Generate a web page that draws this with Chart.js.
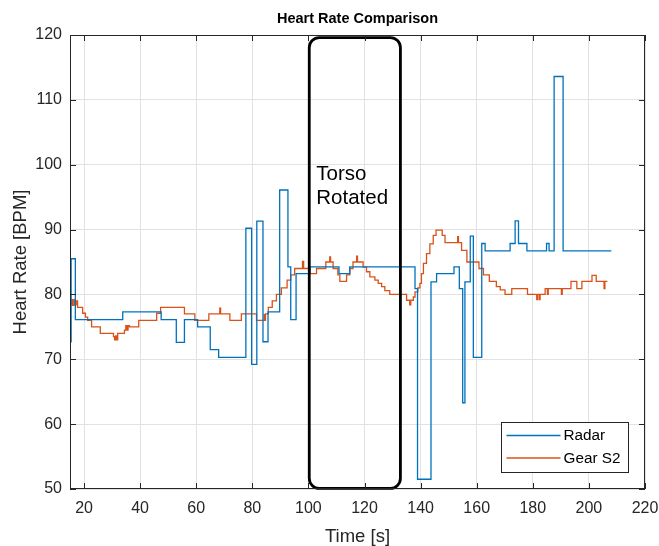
<!DOCTYPE html>
<html><head><meta charset="utf-8">
<script src="https://cdn.jsdelivr.net/npm/chart.js@4.4.0/dist/chart.umd.min.js"></script>
<style>html,body{margin:0;padding:0;background:#fff;}</style>
</head><body>
<canvas id="c" width="659" height="546"></canvas>
<script>
// ---- data ----
const chartTitle = 'Heart Rate Comparison';
const xLabel = 'Time [s]';
const yLabel = 'Heart Rate [BPM]';
const xTicks = [20, 40, 60, 80, 100, 120, 140, 160, 180, 200, 220];
const yTicks = [50, 60, 70, 80, 90, 100, 110, 120];
const xRange = [15, 220];
const yRange = [50, 120];

const radarLabel = 'Radar';
const radarTime = [15.1, 15.4, 16.9, 33.8, 47.5, 52.9, 55.8, 60.5, 65.0, 68.0,
  77.7, 79.75, 81.6, 83.8, 85.6, 89.75, 92.7, 93.7, 95.6, 100.5,
  110.9, 114.75, 138.0, 138.9, 143.7, 145.7, 151.9, 153.8, 155.0, 155.8,
  157.7, 158.8, 161.8, 163.0, 171.9, 173.7, 174.9, 177.9, 184.9, 185.8,
  187.6, 190.8, 208.0];
const radarBpm = [72.7, 85.5, 76.1, 77.3, 76.1, 72.6, 76.1, 75.0, 71.5, 70.3,
  90.2, 69.2, 91.3, 72.7, 77.3, 96.1, 84.25, 76.1, 83.2, 84.25,
  83.2, 84.25, 80.9, 51.5, 81.95, 83.2, 84.25, 80.9, 63.3, 81.95,
  89.0, 70.3, 87.85, 86.7, 87.85, 91.35, 87.85, 86.7, 87.85, 86.7,
  113.6, 86.7, 86.7];

const gearLabel = 'Gear S2';
const gearTime = [15.1, 15.5, 15.9, 16.4, 16.8, 17.2, 17.7, 19.5, 20.5, 21.3,
  22.7, 25.8, 30.5, 30.9, 31.3, 31.6, 32.0, 34.4, 34.9, 35.3,
  35.7, 36.2, 39.5, 45.9, 47.3, 55.8, 59.5, 64.5, 68.4, 68.7,
  72.0, 76.1, 81.5, 84.2, 84.4, 84.7, 85.7, 87.1, 88.6, 90.35,
  92.4, 93.7, 95.1, 97.9, 98.3, 100.5, 102.9, 106.2, 107.6, 107.9,
  108.8, 110.5, 111.2, 113.6, 114.75, 115.9, 117.2, 117.5, 119.5, 120.7,
  121.9, 123.7, 124.9, 126.1, 127.25, 129.0, 135.0, 136.1, 136.5, 137.4,
  138.0, 139.0, 139.75, 140.3, 141.0, 142.1, 143.3, 144.5, 145.5, 147.7,
  148.7, 153.2, 153.5, 154.6, 156.5, 160.8, 162.4, 164.5, 167.0, 168.4,
  170.1, 172.5, 178.1, 181.4, 181.7, 182.3, 182.6, 184.4, 185.2, 185.5,
  190.2, 190.5, 193.6, 195.7, 197.5, 201.1, 202.6, 205.4, 205.7, 206.6];
const gearBpm = [78.5, 79.2, 78.3, 79.2, 78.4, 79.0, 78.0, 77.1, 76.5, 76.0,
  75.0, 74.0, 73.5, 73.0, 73.6, 73.0, 74.0, 74.5, 75.2, 74.5,
  75.2, 75.0, 76.0, 77.1, 78.0, 77.0, 76.0, 77.0, 77.9, 77.0,
  76.0, 77.0, 76.0, 76.9, 76.0, 77.0, 78.0, 79.0, 80.0, 81.0,
  82.2, 83.0, 84.0, 85.1, 84.0, 83.2, 84.0, 85.0, 85.8, 85.0,
  84.0, 83.0, 82.0, 83.0, 84.0, 85.0, 85.9, 85.0, 84.2, 83.5,
  82.7, 82.2, 81.7, 81.2, 80.6, 80.0, 79.1, 78.4, 79.1, 79.6,
  80.4, 81.0, 81.7, 83.2, 84.8, 86.3, 87.8, 89.1, 89.9, 89.1,
  88.0, 88.9, 88.0, 86.8, 85.0, 84.0, 83.0, 82.0, 81.2, 80.7,
  80.0, 80.9, 80.0, 79.2, 80.0, 79.2, 80.0, 80.9, 80.0, 80.9,
  80.0, 80.9, 82.0, 80.9, 82.0, 82.95, 82.0, 80.9, 82.0, 82.0];

// annotation (data coordinates)
const annotationText = ['Torso', 'Rotated'];
const annotationBox = { t0: 100.3, t1: 132.8, v0: 50.1, v1: 119.6 };
const annotationTextAt = { t: 102.8, v: 97.6 };

// ---- styles ----
const FONT = '"Liberation Sans", Arial, Helvetica, sans-serif';
const AXIS = '#262626';
const GRID = '#e2e2e2';
const BLUE = '#0072BD';
const ORANGE = '#D95319';

const toXY = (ts, vs) => ts.map((t, i) => ({ x: t, y: vs[i] }));

const decor = {
  id: 'decor',
  afterDatasetsDraw(chart) {
    const { ctx, chartArea: a, scales: { x, y } } = chart;
    ctx.save();
    // annotation rounded box
    const L = x.getPixelForValue(annotationBox.t0), R = x.getPixelForValue(annotationBox.t1);
    const T = y.getPixelForValue(annotationBox.v1), B = y.getPixelForValue(annotationBox.v0);
    ctx.beginPath();
    ctx.roundRect(L, T, R - L, B - T, 10);
    ctx.lineWidth = 2.8; ctx.strokeStyle = '#000'; ctx.stroke();
    ctx.fillStyle = '#000';
    ctx.font = '20.5px ' + FONT;
    ctx.textAlign = 'left'; ctx.textBaseline = 'alphabetic';
    const tx = x.getPixelForValue(annotationTextAt.t), ty = y.getPixelForValue(annotationTextAt.v);
    annotationText.forEach((s, i) => ctx.fillText(s, tx, ty + i * 23.4));

    // axes box
    ctx.strokeStyle = AXIS; ctx.lineWidth = 1;
    ctx.strokeRect(a.left + 0.5, a.top + 0.5, a.right - a.left - 1, a.bottom - a.top - 1);
    // inward ticks
    ctx.beginPath();
    xTicks.forEach(v => {
      const p = Math.round(x.getPixelForValue(v)) + 0.5;
      ctx.moveTo(p, a.bottom); ctx.lineTo(p, a.bottom - 6);
      ctx.moveTo(p, a.top); ctx.lineTo(p, a.top + 6);
    });
    yTicks.forEach(v => {
      const p = Math.round(y.getPixelForValue(v)) + 0.5;
      ctx.moveTo(a.left, p); ctx.lineTo(a.left + 6, p);
      ctx.moveTo(a.right, p); ctx.lineTo(a.right - 6, p);
    });
    ctx.stroke();

    // title
    ctx.fillStyle = '#000';
    ctx.font = 'bold 14.5px ' + FONT;
    ctx.textAlign = 'center'; ctx.textBaseline = 'middle';
    ctx.fillText(chartTitle, (a.left + a.right) / 2, 18.5);

    // legend
    const bw = 127, bh = 50;
    const bx = a.right - 17 - bw, by = a.bottom - 17 - bh;
    ctx.fillStyle = '#fff';
    ctx.fillRect(bx, by, bw, bh);
    ctx.strokeStyle = AXIS; ctx.lineWidth = 1;
    ctx.strokeRect(Math.round(bx) + 0.5, Math.round(by) + 0.5, bw, bh);
    ctx.font = '15.3px ' + FONT;
    ctx.textAlign = 'left'; ctx.textBaseline = 'middle';
    chart.data.datasets.forEach((ds, i) => {
      const ly = by + 13.5 + i * 22.5;
      ctx.beginPath();
      ctx.moveTo(bx + 5.5, ly); ctx.lineTo(bx + 59.5, ly);
      ctx.strokeStyle = ds.borderColor; ctx.lineWidth = 1.3; ctx.stroke();
      ctx.fillStyle = '#000';
      ctx.fillText(ds.label, bx + 62.5, ly + 0.5);
    });
    ctx.restore();
  }
};

new Chart(document.getElementById('c'), {
  type: 'line',
  data: {
    datasets: [
      { label: radarLabel, data: toXY(radarTime, radarBpm), borderColor: BLUE, borderWidth: 1.3,
        pointRadius: 0, stepped: true, fill: false },
      { label: gearLabel, data: toXY(gearTime, gearBpm), borderColor: ORANGE, borderWidth: 1.3,
        pointRadius: 0, stepped: true, fill: false }
    ]
  },
  options: {
    responsive: false,
    animation: false,
    events: [],
    layout: { padding: { top: 35, right: 14, left: 0, bottom: 0 } },
    plugins: { legend: { display: false }, tooltip: { enabled: false }, title: { display: false } },
    scales: {
      x: {
        type: 'linear', min: xRange[0], max: xRange[1],
        afterBuildTicks: s => { s.ticks = xTicks.map(v => ({ value: v })); },
        afterFit: s => { s.height = 57; s.paddingLeft = 0; s.paddingRight = 0; },
        grid: { color: GRID, lineWidth: 1, drawTicks: false },
        border: { display: false },
        ticks: { color: AXIS, font: { family: FONT, size: 16 }, padding: 10, maxRotation: 0 },
        title: { display: true, text: xLabel, color: AXIS, font: { family: FONT, size: 18.5 }, padding: { bottom: -2 } }
      },
      y: {
        type: 'linear', min: yRange[0], max: yRange[1],
        afterBuildTicks: s => { s.ticks = yTicks.map(v => ({ value: v })); },
        afterFit: s => { s.width = 70; s.paddingTop = 0; s.paddingBottom = 0; },
        grid: { color: GRID, lineWidth: 1, drawTicks: false },
        border: { display: false },
        ticks: { color: AXIS, font: { family: FONT, size: 16 }, padding: 8 },
        title: { display: true, text: yLabel, color: AXIS, font: { family: FONT, size: 18.5 }, padding: { top: 10 } }
      }
    }
  },
  plugins: [decor]
});
</script>
</body></html>
